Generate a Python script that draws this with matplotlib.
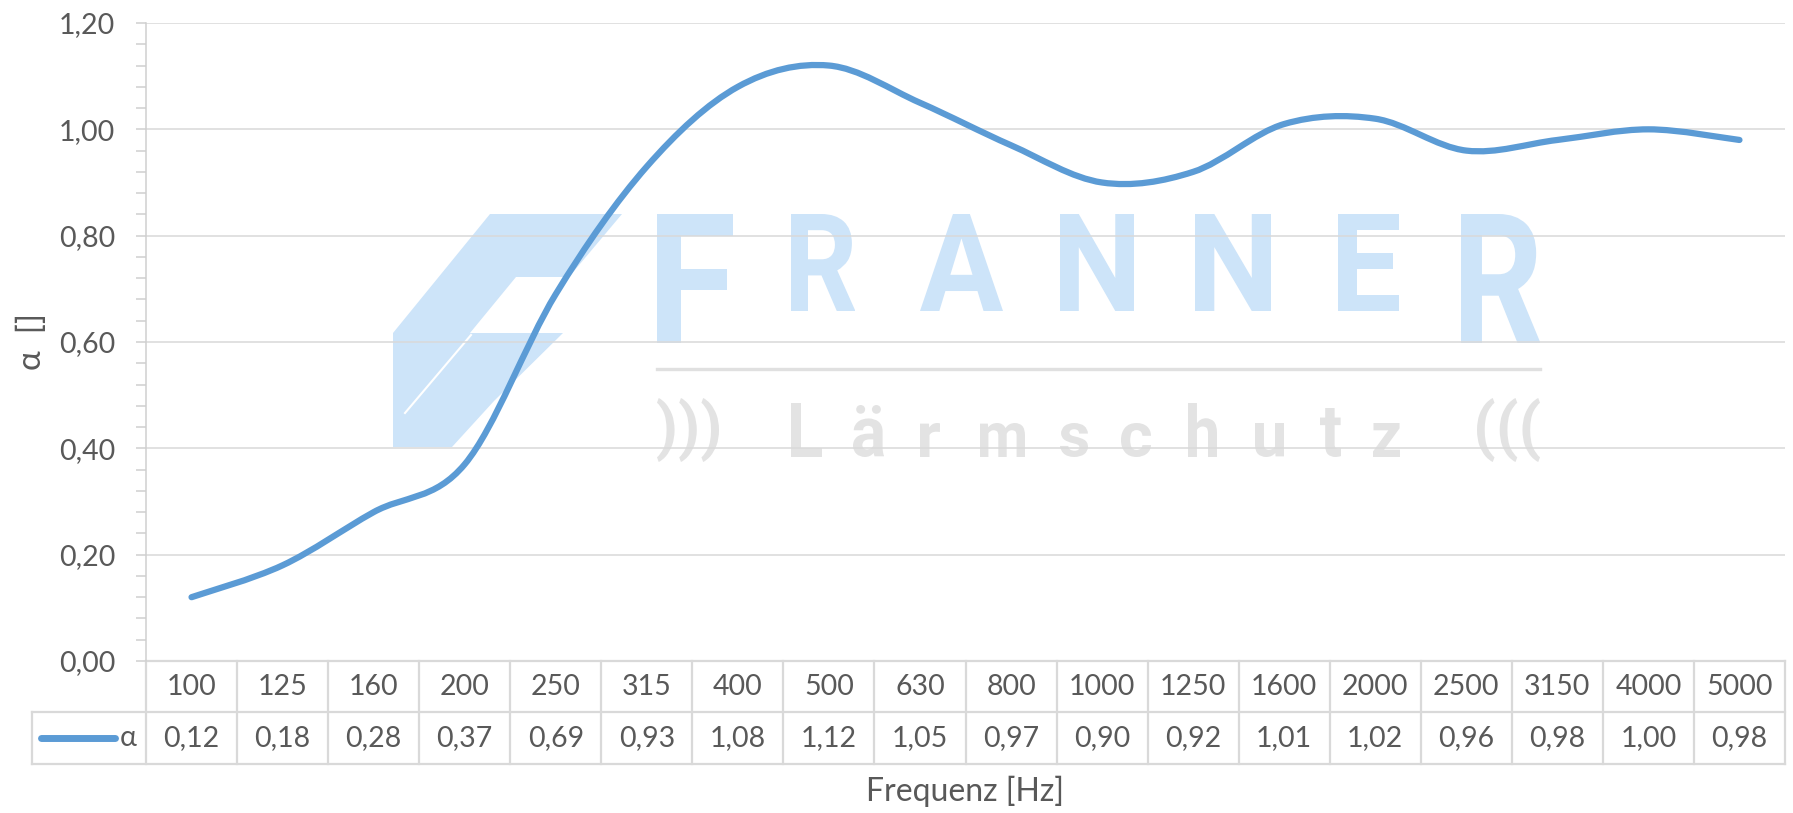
import numpy as np
import matplotlib
matplotlib.use("Agg")
import matplotlib.pyplot as plt
from matplotlib.path import Path
from matplotlib.patches import PathPatch, Polygon
from matplotlib.lines import Line2D
from matplotlib.textpath import TextPath
from matplotlib.font_manager import FontProperties
from matplotlib.transforms import Affine2D, blended_transform_factory
from matplotlib.ticker import MultipleLocator, FuncFormatter

# data
frequencies = ["100", "125", "160", "200", "250", "315", "400", "500", "630",
               "800", "1000", "1250", "1600", "2000", "2500", "3150", "4000", "5000"]
alpha = [0.12, 0.18, 0.28, 0.37, 0.69, 0.93, 1.08, 1.12, 1.05,
         0.97, 0.90, 0.92, 1.01, 1.02, 0.96, 0.98, 1.00, 0.98]
series_name = "α"

W, H = 1793, 813
TEXT = "#595959"
GRID = "#d9d9d9"
BLUE = "#5b9bd5"
LOGO_BLUE = "#cde4f9"
LOGO_GRAY = "#e3e3e3"
NUM_SIZE = 20.5

plt.rcParams["font.family"] = ["Lato", "DejaVu Sans"]

fig = plt.figure(figsize=(W / 100, H / 100), dpi=100)

# plot area in pixels: left 146, right 1785, top 23, bottom 661
ax = fig.add_axes([146 / W, 1 - 661 / H, (1785 - 146) / W, (661 - 23) / H])
n = len(frequencies)
ax.set_xlim(0, n)
ax.set_ylim(0, 1.2)
x = np.arange(n) + 0.5

# smoothed line (Excel style bezier through the points)
pts = np.column_stack([x, alpha])
verts = [pts[0]]
codes = [Path.MOVETO]
for i in range(n - 1):
    p0 = pts[max(i - 1, 0)]
    p1 = pts[i]
    p2 = pts[i + 1]
    p3 = pts[min(i + 2, n - 1)]
    verts += [p1 + (p2 - p0) / 6, p2 - (p3 - p1) / 6, p2]
    codes += [Path.CURVE4] * 3
ax.add_patch(PathPatch(Path(verts, codes), fill=False, edgecolor=BLUE, lw=4.5,
                       capstyle="round", joinstyle="round", zorder=3))

# axes styling
ax.set_axisbelow(True)
ax.yaxis.grid(True, color=GRID, lw=1.1)
ax.yaxis.set_major_locator(MultipleLocator(0.2))
ax.yaxis.set_minor_locator(MultipleLocator(0.04))
ax.yaxis.set_major_formatter(FuncFormatter(lambda v, _: f"{v:.2f}".replace(".", ",")))
ax.tick_params(axis="y", which="both", direction="out", length=7, width=1.1,
               color="#cfcfcf", labelcolor=TEXT, labelsize=NUM_SIZE, pad=15)
ax.set_xticks([])
for s in ["top", "right", "bottom"]:
    ax.spines[s].set_visible(False)
ax.spines["left"].set_color("#cfcfcf")
ax.spines["left"].set_linewidth(1.1)
ax.set_ylabel("α  []", color=TEXT, fontsize=24)
ax.yaxis.set_label_coords((47 - 146) / (1785 - 146), 0.5)

# data table under the axis
plot_h = 661 - 23
col_w = (1785 - 146) / n
row1 = -(712 - 661) / plot_h
row2 = -(764 - 661) / plot_h
leg_left = (32 - 146) / col_w
bt = blended_transform_factory(ax.transData, ax.transAxes)
tkw = dict(transform=bt, color=GRID, lw=1.6, clip_on=False, zorder=2)
ax.add_line(Line2D([0, n], [0, 0], **tkw))
ax.add_line(Line2D([leg_left, n], [row1, row1], **tkw))
ax.add_line(Line2D([leg_left, n], [row2, row2], **tkw))
ax.add_line(Line2D([leg_left, leg_left], [row1, row2], **tkw))
for i in range(n + 1):
    ax.add_line(Line2D([i, i], [0, row2], **tkw))
for i in range(n):
    ax.text(x[i], row1 / 2, frequencies[i], transform=bt, ha="center", va="center",
            color=TEXT, fontsize=NUM_SIZE)
    ax.text(x[i], (row1 + row2) / 2, f"{alpha[i]:.2f}".replace(".", ","), transform=bt,
            ha="center", va="center", color=TEXT, fontsize=NUM_SIZE)
leg_x0 = (41 - 146) / col_w
leg_x1 = (115 - 146) / col_w
ax.add_line(Line2D([leg_x0, leg_x1], [(row1 + row2) / 2] * 2, transform=bt, color=BLUE,
                   lw=5, solid_capstyle="round", clip_on=False))
ax.text((128 - 146) / col_w, (row1 + row2) / 2, series_name, transform=bt, ha="center",
        va="center", color=TEXT, fontsize=NUM_SIZE)

fig.text(965 / W, 1 - 791 / H, "Frequenz [Hz]", ha="center", va="center",
         color=TEXT, fontsize=23)

# watermark logo, drawn in pixel coordinates from the top left
pix = Affine2D().scale(1 / W, -1 / H).translate(0, 1) + fig.transFigure
wm = dict(transform=pix, clip_on=False, zorder=0.1)
fp_bold = FontProperties(family="Roboto", weight="bold")


def glyph_box(s, x0, x1, y0, y1, color):
    tp = TextPath((0, 0), s, size=100, prop=fp_bold)
    ext = tp.get_extents()
    v = tp.vertices.copy()
    v[:, 0] = x0 + (v[:, 0] - ext.x0) / ext.width * (x1 - x0)
    v[:, 1] = y1 - (v[:, 1] - ext.y0) / ext.height * (y1 - y0)
    ax.add_patch(PathPatch(Path(v, tp.codes), facecolor=color, lw=0, **wm))


logo = [(490, 214), (622, 214), (569, 277), (516, 277), (470, 333), (563, 333),
        (494, 401), (452, 447), (393, 447), (393, 333)]
ax.add_patch(Polygon(logo, closed=True, facecolor=LOGO_BLUE, lw=0, **wm))
ax.add_line(Line2D([471, 405], [335, 413], color="white", lw=1.5, **wm))

big = [("F", 657, 733, 343), ("R", 791, 855, 311), ("A", 920, 1003, 311),
       ("N", 1060, 1134, 311), ("N", 1195, 1271, 311), ("E", 1338, 1399, 311),
       ("R", 1461, 1540, 343)]
for ch, a, b, bottom in big:
    glyph_box(ch, a, b, 214, bottom, LOGO_BLUE)

ax.add_line(Line2D([657, 1540], [369, 369], color="#e0e0e0", lw=2.4, **wm))

small = [(")))", 657, 719, 398, 462), ("L", 791, 822, 403, 457), ("ä", 853, 884, 405, 457),
         ("r", 920, 940, 423, 457), ("m", 980, 1025, 423, 457), ("s", 1060, 1088, 423, 457),
         ("c", 1121, 1151, 423, 457), ("h", 1188, 1217, 403, 457), ("u", 1255, 1284, 423, 457),
         ("t", 1320, 1341, 408, 457), ("z", 1373, 1400, 423, 457), ("(((", 1477, 1540, 398, 462)]
for ch, a, b, top, bottom in small:
    glyph_box(ch, a, b, top, bottom, LOGO_GRAY)

fig.savefig("out.png", dpi=100)
